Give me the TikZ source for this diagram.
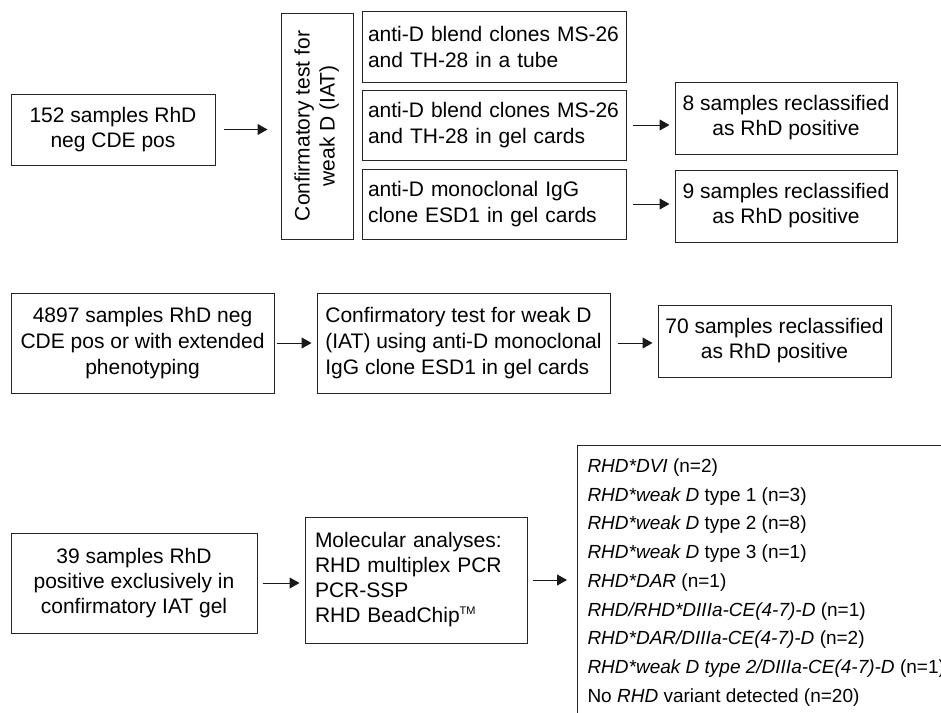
\documentclass[tikz,border=0pt]{standalone}
\usepackage{fontspec}
\setmainfont{Liberation Sans}
\usetikzlibrary{arrows.meta}
\tikzset{
  box/.style={draw=black!85, line width=1pt, inner sep=0pt, align=center,
    font=\fontsize{21}{25}\selectfont},
  leftbox/.style={box, align=left},
  arr/.style={-{Triangle[length=10pt,width=11pt]}, line width=1pt, draw=black!90},
}
\begin{document}
\begin{tikzpicture}[x=1pt,y=-1pt]
\useasboundingbox (0,0) rectangle (941,712);
\clip (0,0) rectangle (941,712);
% ---- row 1
\node[box, minimum width=204pt, minimum height=71pt] (A) at (113,129.5)
  {152 samples RhD\\neg CDE pos};
\node[box, minimum width=72pt, minimum height=226pt] (V) at (317,126)
  {\rotatebox{90}{\begin{tabular}{@{}c@{}}Confirmatory test for\\weak D (IAT)\end{tabular}}};
\node[leftbox, text width=252pt, minimum width=264pt, minimum height=71pt, font=\fontsize{21}{26}\selectfont] (B1) at (494,46.5)
  {anti-D blend clones MS-26\\and TH-28 in a tube};
\node[leftbox, text width=252pt, minimum width=264pt, minimum height=70pt, font=\fontsize{21}{26}\selectfont] (B2) at (494,125)
  {anti-D blend clones MS-26\\and TH-28 in gel cards};
\node[leftbox, text width=252pt, minimum width=264pt, minimum height=70pt, font=\fontsize{21}{26}\selectfont] (B3) at (494,204)
  {anti-D monoclonal IgG\\clone ESD1 in gel cards};
\node[box, minimum width=222pt, minimum height=72pt] (R1) at (786,118)
  {8 samples reclassified\\as RhD positive};
\node[box, minimum width=222pt, minimum height=72pt] (R2) at (786,206)
  {9 samples reclassified\\as RhD positive};
\draw[arr, shorten <=8pt, shorten >=13pt] (A.east) -- (A.east -| V.west);
\draw[arr, shorten <=6pt, shorten >=5pt] (B2.east) -- (B2.east -| R1.west);
\draw[arr, shorten <=6pt, shorten >=5pt] (B3.east) -- (B3.east -| R2.west);
% ---- row 2
\node[box, minimum width=263pt, minimum height=100pt, font=\fontsize{21}{26}\selectfont] (D) at (142.5,343)
  {4897 samples RhD neg\\CDE pos or with extended\\phenotyping};
\node[leftbox, minimum width=293pt, minimum height=100pt, font=\fontsize{21}{26}\selectfont] (E) at (463.5,343)
  {Confirmatory test for weak D\\(IAT) using anti-D monoclonal\\IgG clone ESD1 in gel cards};
\node[box, minimum width=233pt, minimum height=72pt] (F) at (774.5,341)
  {70 samples reclassified\\as RhD positive};
\draw[arr, shorten <=2pt, shorten >=5pt] (D.east) -- (D.east -| E.west);
\draw[arr, shorten <=7pt, shorten >=5pt] (E.east) -- (E.east -| F.west);
% ---- row 3
\node[box, minimum width=246pt, minimum height=100pt] (G) at (134,583)
  {39 samples RhD\\positive exclusively in\\confirmatory IAT gel};
\node[leftbox, text width=202pt, minimum width=222pt, minimum height=126pt] (H) at (416,580)
  {Molecular analyses:\\RHD multiplex PCR\\PCR-SSP\\RHD BeadChip\raisebox{0.75ex}{\fontsize{11}{11}\selectfont TM}};
\node[draw=black!85, line width=1pt, inner sep=0pt, anchor=north west] (I) at (577,445)
  {\begin{minipage}[t][300pt][t]{400pt}\fontsize{19}{28.7}\selectfont\leftskip=10pt
   \rule{0pt}{27pt}\textit{RHD*DVI} (n=2)\\
   \textit{RHD*weak D} type 1 (n=3)\\
   \textit{RHD*weak D} type 2 (n=8)\\
   \textit{RHD*weak D} type 3 (n=1)\\
   \textit{RHD*DAR} (n=1)\\
   \textit{RHD/RHD*DIIIa-CE(4-7)-D} (n=1)\\
   \textit{RHD*DAR/DIIIa-CE(4-7)-D} (n=2)\\
   \textit{RHD*weak D type 2/DIIIa-CE(4-7)-D} (n=1)\\
   No \textit{RHD} variant detected (n=20)
   \end{minipage}};
\draw[arr, shorten <=5pt, shorten >=5pt] (G.east) -- (G.east -| H.west);
\draw[arr, shorten <=5pt, shorten >=10pt] (H.east) -- (H.east -| I.west);
\end{tikzpicture}
\end{document}
